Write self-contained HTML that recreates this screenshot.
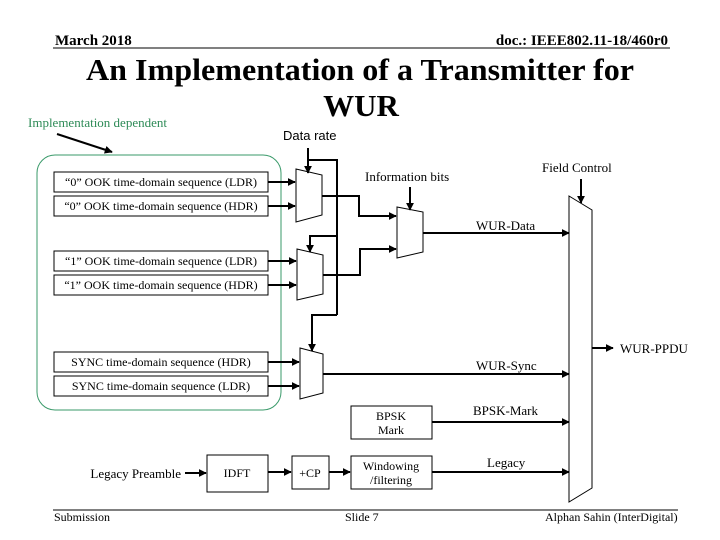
<!DOCTYPE html>
<html><head><meta charset="utf-8"><style>
html,body{margin:0;padding:0;background:#fff;}
svg{display:block;}
text{font-family:"Liberation Serif",serif;fill:#000;}
</style></head><body>
<svg width="720" height="540" viewBox="0 0 720 540" xmlns="http://www.w3.org/2000/svg">
<defs>
<marker id="a" viewBox="0 0 10 10" refX="9" refY="5" markerWidth="4" markerHeight="4" orient="auto"><path d="M0,0 L10,5 L0,10 z" fill="#000"/></marker>
</defs>
<!-- header -->
<text x="55" y="45" font-size="15" font-weight="bold">March 2018</text>
<text x="668" y="45" font-size="15" font-weight="bold" text-anchor="end">doc.: IEEE802.11-18/460r0</text>
<line x1="53" y1="48" x2="670" y2="48" stroke="#000" stroke-width="1"/>
<text x="360" y="80" font-size="31" font-weight="bold" text-anchor="middle" textLength="548" lengthAdjust="spacingAndGlyphs">An Implementation of a Transmitter for</text>
<text x="361" y="116" font-size="31" font-weight="bold" text-anchor="middle">WUR</text>
<text x="28" y="127" font-size="13" fill="#2e8b57" style="fill:#2e8b57">Implementation dependent</text>
<line x1="57" y1="134" x2="112" y2="152" stroke="#000" stroke-width="2" marker-end="url(#a)"/>
<text x="283" y="140" font-size="13" font-family="Liberation Sans" style="font-family:'Liberation Sans',sans-serif">Data rate</text>

<!-- green region -->
<rect x="37" y="155" width="244" height="255" rx="18" fill="none" stroke="#3a9a6a" stroke-width="1"/>

<g fill="#fff" stroke="#000" stroke-width="1">
<rect x="54" y="172" width="214" height="20"/>
<rect x="54" y="196" width="214" height="20"/>
<rect x="54" y="251" width="214" height="20"/>
<rect x="54" y="275" width="214" height="20"/>
<rect x="54" y="352" width="214" height="20"/>
<rect x="54" y="376" width="214" height="20"/>
<rect x="351" y="406" width="81" height="33"/>
<rect x="351" y="456" width="81" height="33"/>
<rect x="292" y="456" width="37" height="33"/>
<rect x="207" y="455" width="61" height="37"/>
<!-- muxes -->
<polygon points="296,169 322,175 322,215 296,222"/>
<polygon points="297,249 323,255 323,294 297,300"/>
<polygon points="300,348 323,354 323,393 300,399"/>
<polygon points="397,207 423,212 423,252 397,258"/>
<polygon points="569,196 592,210 592,488 569,502"/>
</g>
<g font-size="12" text-anchor="middle">
<text x="161" y="186">“0” OOK time-domain sequence (LDR)</text>
<text x="161" y="210">“0” OOK time-domain sequence (HDR)</text>
<text x="161" y="265">“1” OOK time-domain sequence (LDR)</text>
<text x="161" y="289">“1” OOK time-domain sequence (HDR)</text>
<text x="161" y="366">SYNC time-domain sequence (HDR)</text>
<text x="161" y="390">SYNC time-domain sequence (LDR)</text>
<text x="391" y="420">BPSK</text>
<text x="391" y="434">Mark</text>
<text x="391" y="470">Windowing</text>
<text x="391" y="484">/filtering</text>
<text x="310" y="477">+CP</text>
<text x="237" y="477">IDFT</text>
</g>
<text x="181" y="478" font-size="13" text-anchor="end">Legacy Preamble</text>

<g stroke="#000" stroke-width="2" fill="none">
<!-- inputs -->
<line x1="268" y1="182" x2="295" y2="182" marker-end="url(#a)"/>
<line x1="268" y1="206" x2="295" y2="206" marker-end="url(#a)"/>
<line x1="268" y1="261" x2="296" y2="261" marker-end="url(#a)"/>
<line x1="268" y1="285" x2="296" y2="285" marker-end="url(#a)"/>
<line x1="268" y1="362" x2="299" y2="362" marker-end="url(#a)"/>
<line x1="268" y1="386" x2="299" y2="386" marker-end="url(#a)"/>
<!-- data rate -->
<line x1="308" y1="148" x2="308" y2="173" marker-end="url(#a)"/>
<polyline points="308,160 337,160 337,315"/>
<polyline points="337,236 310,236 310,252" marker-end="url(#a)"/>
<polyline points="337,315 312,315 312,351" marker-end="url(#a)"/>
<!-- mux outputs -->
<polyline points="322,196 359,196 359,216 396,216" marker-end="url(#a)"/>
<polyline points="323,275 360,275 360,249 396,249" marker-end="url(#a)"/>
<line x1="410" y1="187" x2="410" y2="210" marker-end="url(#a)"/>
<line x1="423" y1="233" x2="569" y2="233" marker-end="url(#a)"/>
<line x1="323" y1="374" x2="569" y2="374" marker-end="url(#a)"/>
<line x1="432" y1="422" x2="569" y2="422" marker-end="url(#a)"/>
<line x1="432" y1="472" x2="569" y2="472" marker-end="url(#a)"/>
<line x1="581" y1="179" x2="581" y2="203" marker-end="url(#a)"/>
<line x1="592" y1="348" x2="613" y2="348" marker-end="url(#a)"/>
<line x1="185" y1="473" x2="206" y2="473" marker-end="url(#a)"/>
<line x1="268" y1="472" x2="291" y2="472" marker-end="url(#a)"/>
<line x1="329" y1="472" x2="350" y2="472" marker-end="url(#a)"/>
</g>
<g font-size="13">
<text x="365" y="181">Information bits</text>
<text x="542" y="172">Field Control</text>
<text x="476" y="230">WUR-Data</text>
<text x="476" y="370">WUR-Sync</text>
<text x="473" y="415">BPSK-Mark</text>
<text x="487" y="467">Legacy</text>
<text x="620" y="353">WUR-PPDU</text>
</g>
<!-- footer -->
<line x1="53" y1="510" x2="678" y2="510" stroke="#000" stroke-width="1"/>
<text x="54" y="521" font-size="12">Submission</text>
<text x="345" y="521" font-size="12">Slide 7</text>
<text x="545" y="521" font-size="12">Alphan Sahin (InterDigital)</text>
</svg>
</body></html>
